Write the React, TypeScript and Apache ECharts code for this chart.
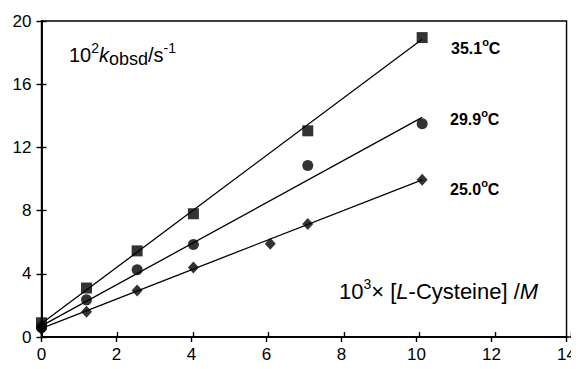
import React, { useEffect, useRef } from "react";
import * as echarts from "echarts";

const xValues = [0, 1.2, 2.55, 4.05, 7.1, 10.15];
const xValues25 = [0, 1.2, 2.55, 4.05, 6.1, 7.1, 10.15];
const k351 = [0.9, 3.1, 5.45, 7.8, 13.05, 18.95];
const k299 = [0.6, 2.35, 4.25, 5.85, 10.85, 13.5];
const k250 = [0.5, 1.6, 2.95, 4.4, 5.9, 7.15, 9.95];
const fit351 = [0.85, 18.85];
const fit299 = [0.7, 13.9];
const fit250 = [0.55, 9.95];
const fitX = [0, 10.15];
const tempLabels = ["35.1", "29.9", "25.0"];

const FONT = "'Liberation Sans', Arial, sans-serif";

export default function App() {
  const ref = useRef<HTMLDivElement>(null);
  useEffect(() => {
    if (!ref.current) return;
    const chart = echarts.init(ref.current, null, { renderer: "svg" });
    const pts = (xs: number[], ys: number[]) => xs.map((x, i) => [x, ys[i]]);
    const fit = (ys: number[]) => fitX.map((x, i) => [x, ys[i]]);
    const gridPos = { left: 41.5, right: 8, top: 21, bottom: 32 };
    const axisCommon = {
      min: 0,
      axisLine: { show: true, lineStyle: { color: "#000", width: 1.6 } },
      splitLine: { show: false },
    };
    const lineSeries = (ys: number[]) => ({
      type: "line",
      data: fit(ys),
      symbol: "none",
      lineStyle: { color: "#000", width: 1.3 },
      silent: true,
      z: 2,
    });
    const scat = (xs: number[], ys: number[], symbol: string, size: any) => ({
      type: "scatter",
      data: pts(xs, ys),
      symbol,
      symbolSize: size,
      itemStyle: { color: "#000" },
      z: 3,
    });
    const tempText = (t: string, x: number, y: number) => ({
      type: "text",
      left: x,
      top: y,
      style: {
        text: `{n|${t}}{s|o}{n|C}`,
        rich: {
          n: { fontFamily: FONT, fontSize: 16, fontWeight: "bold", fill: "#000", verticalAlign: "bottom", lineHeight: 20 },
          s: { fontFamily: FONT, fontSize: 11, fontWeight: "bold", fill: "#000", verticalAlign: "top", lineHeight: 12 },
        },
      },
    });
    chart.setOption({
      animation: false,
      grid: [
        { ...gridPos, show: true, borderColor: "#000", borderWidth: 1.4, containLabel: false },
        { ...gridPos, show: false, containLabel: false },
      ],
      xAxis: [
        {
          ...axisCommon,
          type: "value",
          gridIndex: 0,
          max: 14,
          interval: 2,
          axisTick: { show: true, inside: false, length: 5, lineStyle: { color: "#000", width: 1.4 } },
          axisLabel: { color: "#000", fontFamily: FONT, fontSize: 17, margin: 9, lineHeight: 17 },
        },
        {
          ...axisCommon,
          type: "value",
          gridIndex: 1,
          max: 14,
          interval: 2,
          axisTick: { show: true, inside: true, length: 5, lineStyle: { color: "#000", width: 1.4 } },
          axisLabel: { show: false },
        },
      ],
      yAxis: [
        {
          ...axisCommon,
          type: "value",
          gridIndex: 0,
          max: 20,
          interval: 4,
          axisTick: { show: true, inside: false, length: 5, lineStyle: { color: "#000", width: 1.4 } },
          axisLabel: { color: "#000", fontFamily: FONT, fontSize: 17, margin: 10 },
        },
        {
          ...axisCommon,
          type: "value",
          gridIndex: 1,
          max: 20,
          interval: 4,
          axisTick: { show: true, inside: true, length: 5, lineStyle: { color: "#000", width: 1.4 } },
          axisLabel: { show: false },
        },
      ],
      series: [
        lineSeries(fit351),
        lineSeries(fit299),
        lineSeries(fit250),
        scat(xValues, k351, "rect", 11),
        scat(xValues, k299, "circle", 11),
        scat(xValues25, k250, "diamond", [11, 12]),
      ],
      graphic: [
        {
          type: "text",
          left: 69,
          top: 41,
          style: {
            text: "{n|10}{sup|2}{i|k}{sub|obsd}{n|/s}{sup|-1}",
            rich: {
              n: { fontFamily: FONT, fontSize: 20, fill: "#000", lineHeight: 27, verticalAlign: "middle" },
              i: { fontFamily: FONT, fontSize: 20, fontStyle: "italic", fill: "#000", lineHeight: 27, verticalAlign: "middle" },
              sup: { fontFamily: FONT, fontSize: 14, fill: "#000", lineHeight: 16, verticalAlign: "top" },
              sub: { fontFamily: FONT, fontSize: 18, fill: "#000", lineHeight: 16, verticalAlign: "bottom" },
            },
          },
        },
        {
          type: "text",
          left: 339,
          top: 277,
          style: {
            text: "{n|10}{sup|3}{n|× [}{i|L}{n|-Cysteine] /}{i|M}",
            rich: {
              n: { fontFamily: FONT, fontSize: 22, fill: "#000", lineHeight: 28, verticalAlign: "middle" },
              i: { fontFamily: FONT, fontSize: 22, fontStyle: "italic", fill: "#000", lineHeight: 28, verticalAlign: "middle" },
              sup: { fontFamily: FONT, fontSize: 14, fill: "#000", lineHeight: 16, verticalAlign: "top" },
            },
          },
        },
        tempText(tempLabels[0], 451, 36),
        tempText(tempLabels[1], 450, 107),
        tempText(tempLabels[2], 450, 177),
      ],
    });
    return () => chart.dispose();
  }, []);
  return <div ref={ref} style={{ width: 579, height: 369, margin: -8, background: "#fff" }} />;
}
